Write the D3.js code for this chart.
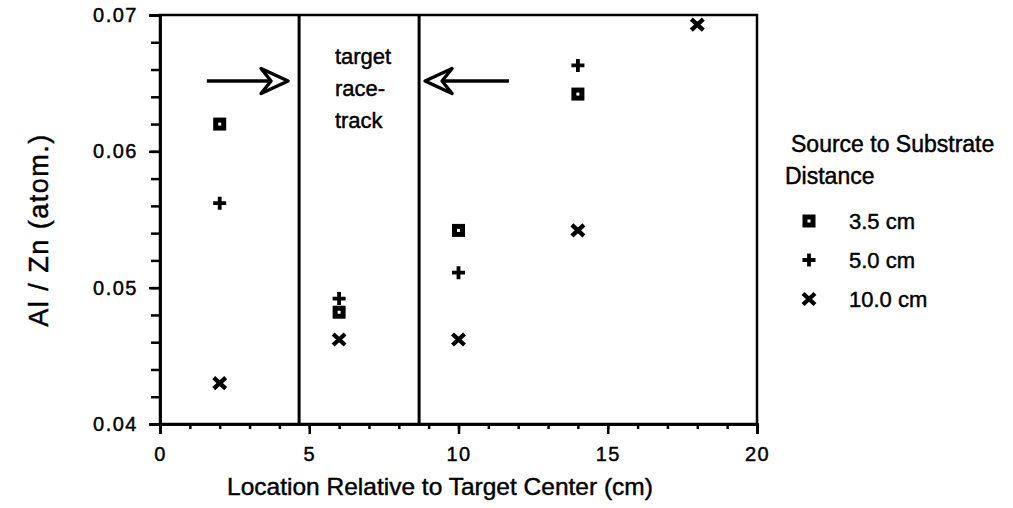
<!DOCTYPE html>
<html><head><meta charset="utf-8">
<script src="https://cdn.jsdelivr.net/npm/d3@7"></script>
<style>
body{margin:0;background:#fff}
text{font-family:"Liberation Sans",Arial,Helvetica,sans-serif;fill:#000;stroke:#000;stroke-width:0.45px}
</style>
</head><body>
<svg id="chart" width="1013" height="508"></svg>
<script>
// ---- data ----
const locations = [2, 6, 10, 14, 18];
const seriesNames = ["3.5 cm", "5.0 cm", "10.0 cm"];
const seriesSymbols = ["square", "plus", "cross"];
const values35 = [0.0620, 0.0482, 0.0542, 0.0642, null];
const values50 = [0.0562, 0.0492, 0.0511, 0.0663, null];
const values100 = [0.0430, 0.0462, 0.0462, 0.0542, 0.0693];
const xMajorTicks = [0, 5, 10, 15, 20];
const xMinorTicks = d3.range(0, 21, 1);
const yMajorTicks = [0.04, 0.05, 0.06, 0.07];
const yMinorTicks = d3.range(0.04, 0.0701, 0.002);
const raceTrackEdges = [4.66, 8.68];
const raceTrackLabel = ["target", "race-", "track"];
const legendTitle = ["Source to Substrate", "Distance"];
const arrowTails = [1.57, 11.69];
const arrowTips = [4.29, 8.88];
const arrowLevel = 0.06516;
const xTitle = "Location Relative to Target Center (cm)";
const yTitle = "Al / Zn (atom.)";

// ---- layout ----
const plot = {left: 160, right: 757, top: 15, bottom: 424};
const svg = d3.select("#chart");
const x = d3.scaleLinear().domain([0, 20]).range([plot.left, plot.right]);
const y = d3.scaleLinear().domain([0.04, 0.07]).range([plot.bottom, plot.top]);

// frame
svg.append("rect").attr("x", plot.left).attr("y", plot.top)
  .attr("width", plot.right - plot.left).attr("height", plot.bottom - plot.top)
  .attr("fill", "none").attr("stroke", "#000").attr("stroke-width", 2.5);

// axes
const xMinor = d3.axisBottom(x).tickValues(xMinorTicks).tickSize(5).tickFormat("");
const xMajor = d3.axisBottom(x).tickValues(xMajorTicks).tickSize(10).tickPadding(13).tickFormat(d3.format("d"));
const yMinor = d3.axisLeft(y).tickValues(yMinorTicks).tickSize(9).tickFormat("");
const yMajor = d3.axisLeft(y).tickValues(yMajorTicks).tickSize(11).tickPadding(11).tickFormat(d3.format(".2f"));

function styleAxis(g) {
  g.select(".domain").attr("stroke-width", 2.5);
  g.selectAll(".tick line").attr("stroke-width", 2.5);
  g.selectAll("text").style("font-size", "20px").style("letter-spacing", "1.5px")
   .style("font-family", '"Liberation Sans",Arial,sans-serif');
}
svg.append("g").attr("transform", `translate(0,${plot.bottom})`).call(xMinor).call(styleAxis);
svg.append("g").attr("transform", `translate(0,${plot.bottom})`).call(xMajor).call(styleAxis);
svg.append("g").attr("transform", `translate(${plot.left},0)`).call(yMinor).call(styleAxis);
svg.append("g").attr("transform", `translate(${plot.left},0)`).call(yMajor).call(styleAxis);

// race-track boundaries
svg.append("g").selectAll("line").data(raceTrackEdges).join("line")
  .attr("x1", d => x(d)).attr("x2", d => x(d))
  .attr("y1", plot.top).attr("y2", plot.bottom)
  .attr("stroke", "#000").attr("stroke-width", 3);

// race-track label
svg.append("text").attr("x", x(5.86)).attr("y", plot.top + 49)
  .style("font-size", "22px")
  .selectAll("tspan").data(raceTrackLabel).join("tspan")
  .attr("x", x(5.86)).attr("dy", (d, i) => i === 0 ? 0 : 32).text(d => d);

// arrows
const ag = svg.append("g").attr("stroke", "#000").attr("fill", "none")
  .attr("stroke-width", 3.4).attr("stroke-linejoin", "round");
arrowTails.forEach((tail, i) => {
  const yy = y(arrowLevel), xt = x(arrowTips[i]), xs = x(tail);
  const dir = Math.sign(xt - xs);
  ag.append("line").attr("x1", xs).attr("x2", xt - dir * 16).attr("y1", yy).attr("y2", yy);
  ag.append("path").attr("d",
    `M${xt - dir * 27},${yy - 12.5} L${xt},${yy} L${xt - dir * 27},${yy + 12.5} L${xt - dir * 17},${yy} Z`)
    .attr("fill", "#fff");
});

// markers
function drawSymbol(g, type, cx, cy) {
  if (type === "square") {
    g.append("rect").attr("x", cx - 4).attr("y", cy - 4).attr("width", 8).attr("height", 8)
      .attr("fill", "#fff").attr("stroke", "#000").attr("stroke-width", 5);
  } else if (type === "plus") {
    g.append("path").attr("d", `M${cx - 6.5},${cy} H${cx + 6.5} M${cx},${cy - 6.5} V${cy + 6.5}`)
      .attr("stroke", "#000").attr("stroke-width", 3.8).attr("fill", "none");
  } else {
    g.append("path").attr("d", `M${cx - 6},${cy - 5.5} L${cx + 6},${cy + 5.5} M${cx - 6},${cy + 5.5} L${cx + 6},${cy - 5.5}`)
      .attr("stroke", "#000").attr("stroke-width", 4.3).attr("fill", "none");
  }
}
const allSeries = [values35, values50, values100];
const mg = svg.append("g");
allSeries.forEach((vals, s) => {
  locations.forEach((loc, i) => {
    if (vals[i] != null) drawSymbol(mg, seriesSymbols[s], x(loc), y(vals[i]));
  });
});

// legend
const lg = svg.append("g");
lg.append("text").attr("x", 791).attr("y", 152).style("font-size", "23px").text(legendTitle[0]);
lg.append("text").attr("x", 785).attr("y", 184).style("font-size", "23px").text(legendTitle[1]);
seriesNames.forEach((name, i) => {
  const cy = 221 + i * 39;
  drawSymbol(lg, seriesSymbols[i], 809, cy);
  lg.append("text").attr("x", 849).attr("y", cy + 8).style("font-size", "22px").text(name);
});

// axis titles
svg.append("text").attr("x", 440).attr("y", 495).attr("text-anchor", "middle")
  .style("font-size", "24.5px").text(xTitle);
svg.append("text").attr("transform", "translate(48,230) rotate(-90)").attr("text-anchor", "middle")
  .style("font-size", "27px").style("letter-spacing", "1.5px").text(yTitle);
</script>
</body></html>
